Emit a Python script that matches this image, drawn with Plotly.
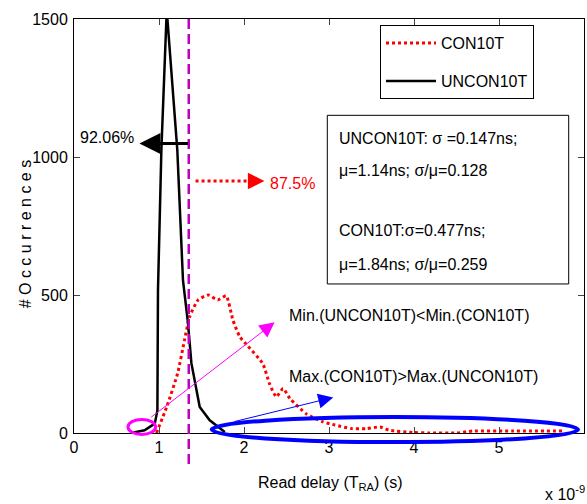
import plotly.graph_objects as go

# ---- data (read delay in units of 1e-9 s) ----
unc_x = [0.675, 0.83, 0.95, 0.981, 0.988, 1.028, 1.091, 1.215, 1.282, 1.341, 1.381, 1.479, 1.597, 1.774]
unc_y = [0, 10, 34, 82, 518, 1026, 1532, 1027, 554, 398, 253, 94, 46, 4]

con_x = [0.97, 1.09, 1.22, 1.30, 1.36, 1.46, 1.58, 1.69, 1.79, 1.87, 1.95, 2.03, 2.22, 2.30, 2.38,
         2.46, 2.54, 2.73, 2.93, 3.07, 3.26, 3.44, 3.60, 3.71, 3.99, 4.18, 4.50, 4.69, 5.16, 5.75]
con_y = [0, 94, 217, 337, 421, 482, 500, 482, 497, 409, 349, 320, 252, 179, 131,
         161, 125, 70, 40, 29, 16, 16, 22, 10, 2, 0, 0, 7, 7, 7]

x_ticks = [0, 1, 2, 3, 4, 5, 6]
y_ticks = [0, 500, 1000, 1500]
threshold = 1.35
pct_unc = "92.06%"
pct_con = "87.5%"
stats_lines = ["UNCON10T: σ =0.147ns;", "μ=1.14ns; σ/μ=0.128",
               "CON10T:σ=0.477ns;", "μ=1.84ns; σ/μ=0.259"]

FONT = "Liberation Sans, Arial, sans-serif"
FS = 16
YMAX = 1500

fig = go.Figure()
fig.add_trace(go.Scatter(x=con_x, y=con_y, mode="lines", name="CON10T", legendgroup="a",
                         line=dict(color="#FF0000", width=3, dash="dot", shape="spline", smoothing=0.5)))
fig.add_trace(go.Scatter(x=unc_x, y=unc_y, mode="lines", name="UNCON10T", legendgroup="b",
                         line=dict(color="#000000", width=2.5)))

def py(v):  # data y -> paper fraction
    return v / YMAX

shapes = [
    dict(type="line", xref="x", yref="paper", x0=threshold, x1=threshold, y0=1, y1=-0.082,
         line=dict(color="#C000C0", width=2.5, dash="10px,5px")),
    dict(type="circle", xref="x", yref="paper", x0=0.635, x1=0.96, y0=py(-5), y1=py(49),
         line=dict(color="#FF00FF", width=3)),
    dict(type="circle", xref="x", yref="paper", x0=1.62, x1=5.93, y0=py(-33), y1=py(58),
         line=dict(color="#0000FF", width=4)),
    dict(type="line", xref="x", yref="y", x0=1.43, x1=2.12, y0=913, y1=913,
         line=dict(color="#FF0000", width=3, dash="dot")),
    dict(type="rect", xref="x", yref="y", x0=2.98, x1=5.82, y0=540, y1=1151,
         line=dict(color="#000000", width=1), fillcolor="rgba(255,255,255,0)"),
]

ann = []
ann.append(dict(x=0.77, y=1049, ax=1.36, ay=1049, xref="x", yref="y", axref="x", ayref="y",
                text="", showarrow=True, arrowhead=2, arrowsize=1.4, arrowwidth=3, arrowcolor="#000000"))
ann.append(dict(x=0.39, y=1070, xref="x", yref="y", text=pct_unc, showarrow=False,
                xanchor="center", yanchor="middle", font=dict(size=FS, color="#000000")))
ann.append(dict(x=2.24, y=913, ax=2.08, ay=913, xref="x", yref="y", axref="x", ayref="y",
                text="", showarrow=True, arrowhead=2, arrowsize=1.1, arrowwidth=3, arrowcolor="#FF0000"))
ann.append(dict(x=2.28, y=903, xref="x", yref="y", text=pct_con, showarrow=False, xanchor="left",
                yanchor="middle", font=dict(size=FS, color="#FF0000")))
ann.append(dict(x=2.36, y=401, ax=0.89, ay=53, xref="x", yref="y", axref="x", ayref="y",
                text="", showarrow=True, arrowhead=2, arrowsize=3, arrowwidth=1, arrowcolor="#FF00FF"))
ann.append(dict(x=2.51, y=427, xref="x", yref="y", text="Min.(UNCON10T)&lt;Min.(CON10T)",
                showarrow=False, xanchor="left", yanchor="middle", font=dict(size=FS, color="#000000")))
ann.append(dict(x=3.05, y=129, ax=1.87, ay=40, xref="x", yref="y", axref="x", ayref="y",
                text="", showarrow=True, arrowhead=2, arrowsize=3, arrowwidth=1, arrowcolor="#0000FF"))
ann.append(dict(x=2.51, y=203, xref="x", yref="y", text="Max.(CON10T)&gt;Max.(UNCON10T)",
                showarrow=False, xanchor="left", yanchor="middle", font=dict(size=FS, color="#000000")))
for txt, yy in zip(stats_lines, [1066, 950, 732, 612]):
    ann.append(dict(x=3.09, y=yy, xref="x", yref="y", text=txt, showarrow=False, xanchor="left",
                    yanchor="middle", font=dict(size=FS, color="#000000")))
ann.append(dict(x=0.502, y=-0.121, xref="paper", yref="paper", text="Read delay (T<sub>RA</sub>) (s)",
                xanchor="center", yanchor="middle", showarrow=False, font=dict(size=FS, color="#000000")))
ann.append(dict(x=-0.096, y=0.48, xref="paper", yref="paper", text="# O c c u r r e n c e s",
                xanchor="center", yanchor="middle", textangle=-90, showarrow=False,
                font=dict(size=FS, color="#000000")))
ann.append(dict(x=1.006, y=-0.145, xref="paper", yref="paper", text="x 10<sup>-9</sup>",
                xanchor="right", yanchor="middle", showarrow=False, font=dict(size=FS, color="#000000")))

fig.update_layout(
    width=587, height=504,
    margin=dict(l=74, r=3, t=19, b=71),
    paper_bgcolor="white", plot_bgcolor="white",
    font=dict(family=FONT, size=FS, color="#000000"),
    shapes=shapes, annotations=ann,
    legend=dict(x=0.6, y=0.985, xanchor="left", yanchor="top", bgcolor="white",
                bordercolor="#000000", borderwidth=1, itemwidth=50, tracegroupgap=14,
                font=dict(size=FS)),
    showlegend=True,
)
fig.update_xaxes(range=[0, 6], tickvals=x_ticks, ticks="inside", ticklen=6, showline=True,
                 linecolor="#000000", linewidth=1, mirror="ticks", showgrid=False, zeroline=False,
                 tickfont=dict(size=FS), ticklabelstandoff=0)
fig.update_yaxes(range=[0, YMAX], tickvals=y_ticks, ticks="inside", ticklen=6, showline=True,
                 linecolor="#000000", linewidth=1, mirror="ticks", showgrid=False, zeroline=False,
                 tickfont=dict(size=FS), ticklabelstandoff=2)

fig.write_html("out.html")
